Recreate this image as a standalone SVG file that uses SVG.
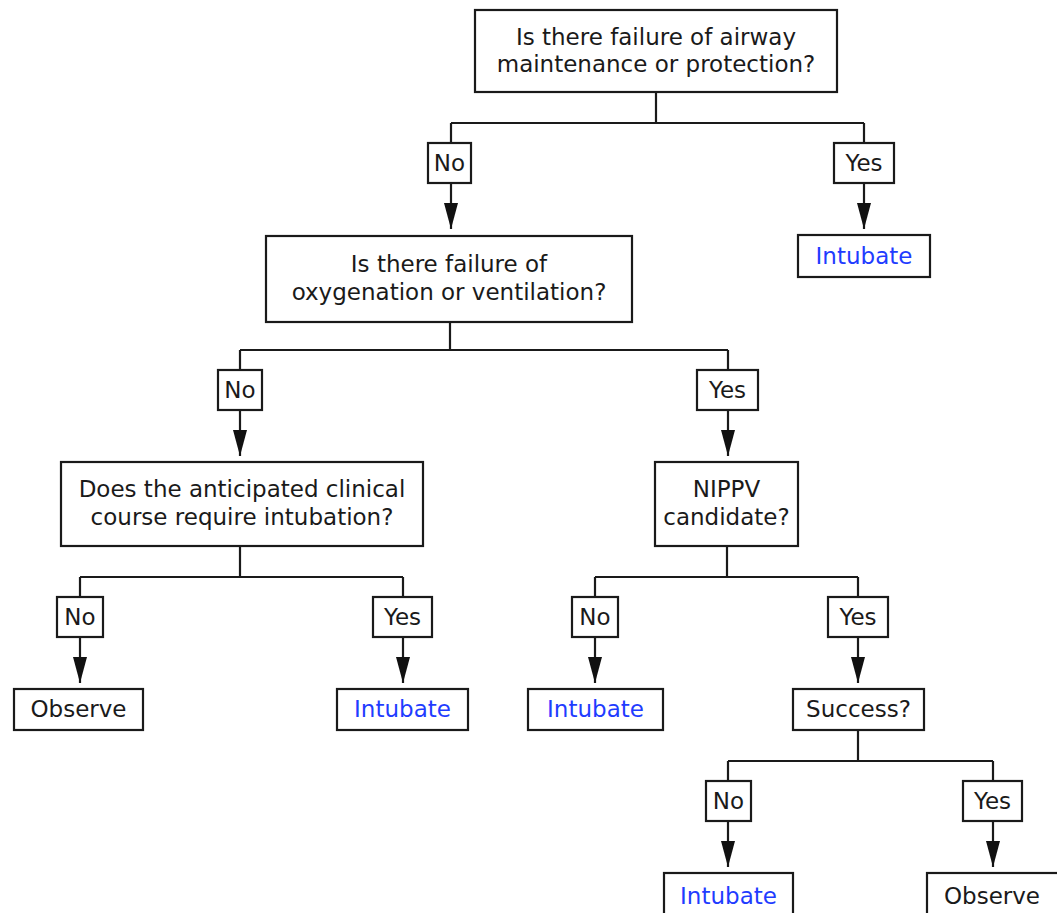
<svg xmlns="http://www.w3.org/2000/svg" width="1057" height="913" viewBox="0 0 1057 913">
<style>
.box{fill:#fff;stroke:#1a1a1a;stroke-width:2.2}
.t{font-family:"DejaVu Sans",Verdana,sans-serif;font-size:23px;fill:#1a1a1a;text-anchor:middle}
.b{fill:#1f3cff}
.c{fill:none;stroke:#1a1a1a;stroke-width:2.2}
</style>
<defs>
<marker id="arr" viewBox="0 0 26 14" refX="26" refY="7" markerWidth="26" markerHeight="14" markerUnits="userSpaceOnUse" orient="auto">
<path d="M0,0 L26,7 L0,14 z" fill="#111"/>
</marker>
</defs>
<rect width="1057" height="913" fill="#fff"/>
<g id="connectors">
<path class="c" d="M656,92 V123 M451,123 H864 M451,123 V143 M864,123 V143"/>
<path class="c" d="M451,183 V229" marker-end="url(#arr)"/>
<path class="c" d="M864,183 V229" marker-end="url(#arr)"/>
<path class="c" d="M450,322 V350 M240,350 H728 M240,350 V370 M728,350 V370"/>
<path class="c" d="M240,410 V456" marker-end="url(#arr)"/>
<path class="c" d="M728,410 V456" marker-end="url(#arr)"/>
<path class="c" d="M240,546 V577 M80,577 H403 M80,577 V597 M403,577 V597"/>
<path class="c" d="M80,637 V683" marker-end="url(#arr)"/>
<path class="c" d="M403,637 V683" marker-end="url(#arr)"/>
<path class="c" d="M727,546 V577 M595,577 H858 M595,577 V597 M858,577 V597"/>
<path class="c" d="M595,637 V683" marker-end="url(#arr)"/>
<path class="c" d="M858,637 V683" marker-end="url(#arr)"/>
<path class="c" d="M858,730 V761 M728,761 H993 M728,761 V781 M993,761 V781"/>
<path class="c" d="M728,821 V867" marker-end="url(#arr)"/>
<path class="c" d="M993,821 V867" marker-end="url(#arr)"/>
</g>
<g id="q1"><rect class="box" x="475" y="10" width="362" height="82"/><text class="t" x="656" y="45">Is there failure of airway</text><text class="t" x="656" y="72">maintenance or protection?</text></g>
<g id="l1no"><rect class="box" x="428" y="143" width="43" height="40"/><text class="t" x="449.5" y="171">No</text></g>
<g id="l1yes"><rect class="box" x="834" y="143" width="60" height="40"/><text class="t" x="864" y="171">Yes</text></g>
<g id="r1"><rect class="box" x="798" y="235" width="132" height="42"/><text class="t b" x="864" y="264">Intubate</text></g>
<g id="q2"><rect class="box" x="266" y="236" width="366" height="86"/><text class="t" x="449" y="272">Is there failure of</text><text class="t" x="449" y="300">oxygenation or ventilation?</text></g>
<g id="l2no"><rect class="box" x="218" y="370" width="44" height="40"/><text class="t" x="240" y="398">No</text></g>
<g id="l2yes"><rect class="box" x="697" y="370" width="61" height="40"/><text class="t" x="727.5" y="398">Yes</text></g>
<g id="q3"><rect class="box" x="61" y="462" width="362" height="84"/><text class="t" x="242" y="497">Does the anticipated clinical</text><text class="t" x="242" y="525">course require intubation?</text></g>
<g id="q4"><rect class="box" x="655" y="462" width="143" height="84"/><text class="t" x="726.5" y="497">NIPPV</text><text class="t" x="726.5" y="525">candidate?</text></g>
<g id="l3no"><rect class="box" x="57" y="597" width="46" height="40"/><text class="t" x="80" y="625">No</text></g>
<g id="l3yes"><rect class="box" x="373" y="597" width="59" height="40"/><text class="t" x="402.5" y="625">Yes</text></g>
<g id="r2"><rect class="box" x="14" y="689" width="129" height="41"/><text class="t" x="78.5" y="717">Observe</text></g>
<g id="r3"><rect class="box" x="337" y="689" width="131" height="41"/><text class="t b" x="402.5" y="717">Intubate</text></g>
<g id="l4no"><rect class="box" x="572" y="597" width="46" height="40"/><text class="t" x="595" y="625">No</text></g>
<g id="l4yes"><rect class="box" x="828" y="597" width="60" height="40"/><text class="t" x="858" y="625">Yes</text></g>
<g id="r4"><rect class="box" x="528" y="689" width="135" height="41"/><text class="t b" x="595.5" y="717">Intubate</text></g>
<g id="q5"><rect class="box" x="793" y="689" width="131" height="41"/><text class="t" x="858.5" y="717">Success?</text></g>
<g id="l5no"><rect class="box" x="706" y="781" width="45" height="40"/><text class="t" x="728.5" y="809">No</text></g>
<g id="l5yes"><rect class="box" x="963" y="781" width="59" height="40"/><text class="t" x="992.5" y="809">Yes</text></g>
<g id="r5"><rect class="box" x="664" y="873" width="129" height="50"/><text class="t b" x="728.5" y="904">Intubate</text></g>
<g id="r6"><rect class="box" x="927" y="873" width="140" height="50"/><text class="t" x="992" y="904">Observe</text></g>
</svg>
